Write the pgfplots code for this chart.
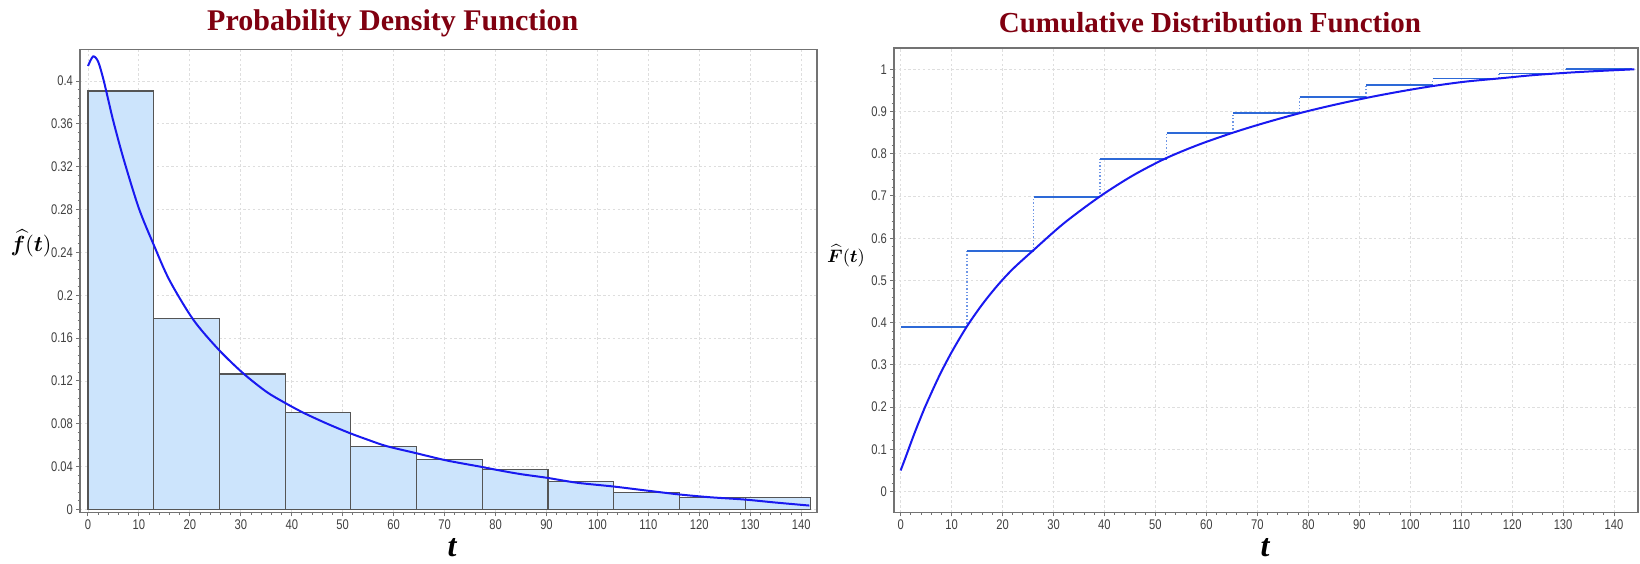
\documentclass[border=0pt]{standalone}
\usepackage{amsmath}
\usepackage{pgfplots}
\pgfplotsset{compat=1.18}
\usepackage{fontspec}
\setmainfont{Liberation Serif}
\newfontfamily\tickfont[FakeStretch=0.8]{Liberation Sans}

\definecolor{titlered}{RGB}{128,0,16}
\definecolor{barfill}{RGB}{204,228,252}
\definecolor{baredge}{RGB}{85,85,85}
\definecolor{curveblue}{RGB}{25,25,240}
\definecolor{stepblue}{RGB}{45,105,215}
\definecolor{dotblue}{RGB}{110,150,230}
\definecolor{gridgray}{RGB}{222,222,222}
\definecolor{framegray}{RGB}{115,115,115}

\newcommand\tlabfont{\bfseries\itshape\fontsize{16}{18}\selectfont}

\pgfplotsset{
  chart/.style={
    scale only axis, anchor=north west,
    axis line style={framegray, line width=0.8pt},
    tick style={framegray, line width=0.5pt},
    major tick length=2pt, minor tick length=1.2pt,
    tick align=outside, xtick pos=bottom, ytick pos=left,
    minor x tick num=4, minor y tick num=4,
    grid=major, major grid style={gridgray, dash pattern=on 1.2pt off 1.2pt, line width=0.45pt},
    tick label style={font=\tickfont\fontsize{7}{8}\selectfont, text=black!75},
    xticklabel style={yshift=2pt},
    /pgf/number format/assume math mode=true,
    xtick={0,10,20,30,40,50,60,70,80,90,100,110,120,130,140},
    scaled y ticks=false,
    clip=false,
  },
}

\begin{document}
\begin{tikzpicture}
\useasboundingbox (0,0) rectangle (820pt,-281.5pt);

% ---- left: histogram + density
\begin{axis}[chart,
  at={(40pt,-24.65pt)}, width=368.5pt, height=231.5pt,
  xmin=-1.57, xmax=143.1, ymin=-0.0026, ymax=0.4296,
  ytick={0,0.04,0.08,0.12,0.16,0.2,0.24,0.28,0.32,0.36,0.4},
  yticklabel style={/pgf/number format/fixed, /pgf/number format/precision=2, xshift=2pt},
]
\addplot[ybar interval, fill=barfill, draw=baredge, line width=0.6pt] coordinates {
  (0,0.3907) (12.9,0.178) (25.8,0.1265) (38.7,0.0903) (51.6,0.0589) (64.5,0.0467)
  (77.4,0.0377) (90.3,0.0262) (103.2,0.0156) (116.1,0.0109) (129,0.0109) (141.9,0.0109)};
\addplot[curveblue, line width=1pt, smooth] coordinates {
  (0,0.414) (1,0.423) (2,0.418) (3,0.402) (4,0.382) (5,0.362) (7,0.327) (10,0.281)
  (13,0.246) (16,0.214) (20.7,0.177) (25.7,0.149) (30.5,0.127) (35,0.110) (38.5,0.100)
  (42.3,0.0903) (47,0.080) (51.4,0.0713) (55,0.065) (58.6,0.0592) (64.4,0.0526)
  (70.4,0.0458) (77,0.040) (80.9,0.0364) (85,0.033) (90.1,0.0296) (96,0.025)
  (103.1,0.0215) (110,0.0175) (116.2,0.014) (122,0.0115) (128.9,0.0093) (135,0.0065)
  (141.6,0.0037)};
\end{axis}

% ---- right: empirical and fitted CDF
\begin{axis}[chart,
  at={(447pt,-24pt)}, width=372pt, height=232.15pt,
  xmin=-1.3, xmax=144.7, ymin=-0.049, ymax=1.0504,
  ytick={0,0.1,0.2,0.3,0.4,0.5,0.6,0.7,0.8,0.9,1},
  yticklabel style={/pgf/number format/fixed, /pgf/number format/precision=1, xshift=2pt},
  unbounded coords=jump,
]
\addplot[dotblue, densely dotted, line width=0.7pt] coordinates {
  (13.05,0.39) (13.05,0.569) (13.05,nan)
  (26.1,0.569) (26.1,0.697) (26.1,nan)
  (39.15,0.697) (39.15,0.788) (39.15,nan)
  (52.2,0.788) (52.2,0.849) (52.2,nan)
  (65.25,0.849) (65.25,0.897) (65.25,nan)
  (78.3,0.897) (78.3,0.934) (78.3,nan)
  (91.35,0.934) (91.35,0.962) (91.35,nan)
  (104.4,0.962) (104.4,0.978) (104.4,nan)
  (117.45,0.978) (117.45,0.990) (117.45,nan)
  (130.5,0.990) (130.5,1.0)};
\addplot[stepblue, line width=0.9pt] coordinates {
  (0,0.39) (13.05,0.39) (13.05,nan)
  (13.05,0.569) (26.1,0.569) (26.1,nan)
  (26.1,0.697) (39.15,0.697) (39.15,nan)
  (39.15,0.788) (52.2,0.788) (52.2,nan)
  (52.2,0.849) (65.25,0.849) (65.25,nan)
  (65.25,0.897) (78.3,0.897) (78.3,nan)
  (78.3,0.934) (91.35,0.934) (91.35,nan)
  (91.35,0.962) (104.4,0.962) (104.4,nan)
  (104.4,0.978) (117.45,0.978) (117.45,nan)
  (117.45,0.990) (130.5,0.990) (130.5,nan)
  (130.5,1.0) (143.55,1.0)};
\addplot[curveblue, line width=1pt, smooth] coordinates {
  (0,0.05) (1,0.082) (2,0.115) (3,0.147) (4,0.177) (5,0.206) (7.5,0.272) (10,0.330)
  (13,0.391) (16,0.443) (19,0.488) (22,0.527) (26,0.571) (32,0.635) (39,0.698)
  (45.5,0.748) (52,0.789) (58.6,0.822) (65.5,0.851) (71.7,0.874) (78.6,0.897)
  (84.8,0.915) (91.7,0.933) (98.3,0.948) (104.8,0.961) (111,0.971) (118,0.979)
  (124,0.986) (131,0.992) (137,0.996) (144,1.0)};
\end{axis}

% titles and axis labels
\node[text=titlered] at (196.4pt,-11.5pt) {\bfseries\fontsize{15}{17}\selectfont Probability Density Function};
\node[text=titlered] at (605pt,-11.5pt) {\bfseries\fontsize{14.5}{16}\selectfont Cumulative Distribution Function};
\node[inner sep=0pt] at (226pt,-274pt) {\tlabfont t};
\node[inner sep=0pt] at (632.5pt,-274pt) {\tlabfont t};
\node[inner sep=0pt] at (15.5pt,-121.5pt) {\fontsize{11}{13}\selectfont $\boldsymbol{\widehat{f}}(\boldsymbol{t})$};
\node[inner sep=0pt] at (423pt,-128pt) {\fontsize{9.5}{11}\selectfont $\boldsymbol{\widehat{F}}(\boldsymbol{t})$};
\end{tikzpicture}
\end{document}
